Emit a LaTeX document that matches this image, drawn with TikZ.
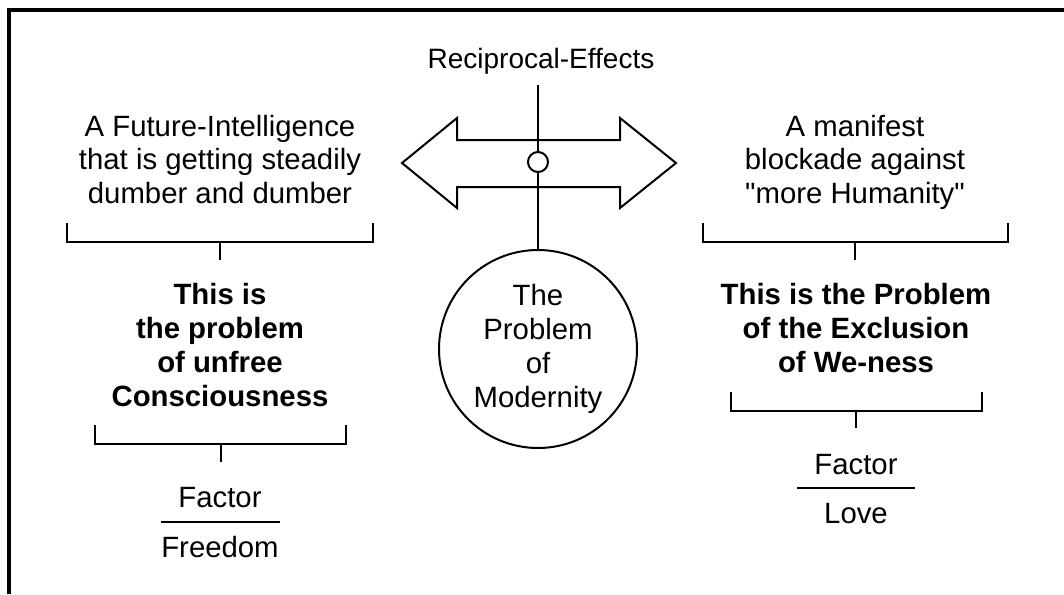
\documentclass[tikz,border=0pt]{standalone}
\usepackage{fontspec}
\setmainfont{Liberation Sans}
\begin{document}
\begin{tikzpicture}[x=0.75pt,y=-0.75pt,
  txt/.style={font=\fontsize{22}{25}\selectfont, align=center, inner sep=0pt, anchor=base},
  btxt/.style={txt, font=\fontsize{22}{25.3}\selectfont\bfseries},
  thin/.style={line width=1.5pt},
  frame/.style={line width=3pt}]
\useasboundingbox (0,0) rectangle (1064,594);
% frame (top and left edges)
\draw[frame] (9,594) -- (9,10) -- (1064,10);
% title
\node[txt, font=\fontsize{21}{25}\selectfont] (recip) at (541,68) {Reciprocal-Effects};
% double arrow
\draw[thin, fill=white] (402,163) -- (457,118) -- (457,140) -- (620,140) -- (620,118) -- (676,163)
  -- (620,208) -- (620,187) -- (457,187) -- (457,208) -- cycle;
% central circle
\node[draw, thin, circle, minimum size=148.5pt, inner sep=0pt, align=center,
  font=\fontsize{22}{25.3}\selectfont] (mod) at (538,349) {The\\Problem\\of\\Modernity};
\coordinate (vtop) at (538,85);
\draw[thin] (vtop) -- (mod.north);
\node[draw, thin, circle, fill=white, minimum size=15pt, inner sep=0pt] (hub) at (538,162) {};
% left side (base anchor = last line baseline)
\node[txt] (lefttop) at (220,203) {A Future-Intelligence\\that is getting steadily\\dumber and dumber};
\draw[thin] (67,223) -- (67,242) -- (373,242) -- (373,223);
\draw[thin] (220,242) -- (220,260);
\node[btxt] (leftprob) at (220,406) {This is\\the problem\\of unfree\\Consciousness};
\draw[thin] (95,425) -- (95,444) -- (346,444) -- (346,425);
\draw[thin] (221,444) -- (221,462);
\node[txt] (lfac) at (220,507) {Factor};
\draw[thin] (161,522) -- (280,522);
\node[txt] (lfree) at (220,557) {Freedom};
% right side
\node[txt] (righttop) at (855,203) {A manifest\\blockade against\\\textquotedbl more Humanity\textquotedbl};
\draw[thin] (703,223) -- (703,242) -- (1008,242) -- (1008,223);
\draw[thin] (855,242) -- (855,260);
\node[btxt] (rightprob) at (856,372) {This is the Problem\\of the Exclusion\\of We-ness};
\draw[thin] (731,392) -- (731,411) -- (982,411) -- (982,392);
\draw[thin] (856,411) -- (856,428);
\node[txt] (rfac) at (856,474) {Factor};
\draw[thin] (797,488) -- (915,488);
\node[txt] (rlove) at (856,523) {Love};
\end{tikzpicture}
\end{document}
